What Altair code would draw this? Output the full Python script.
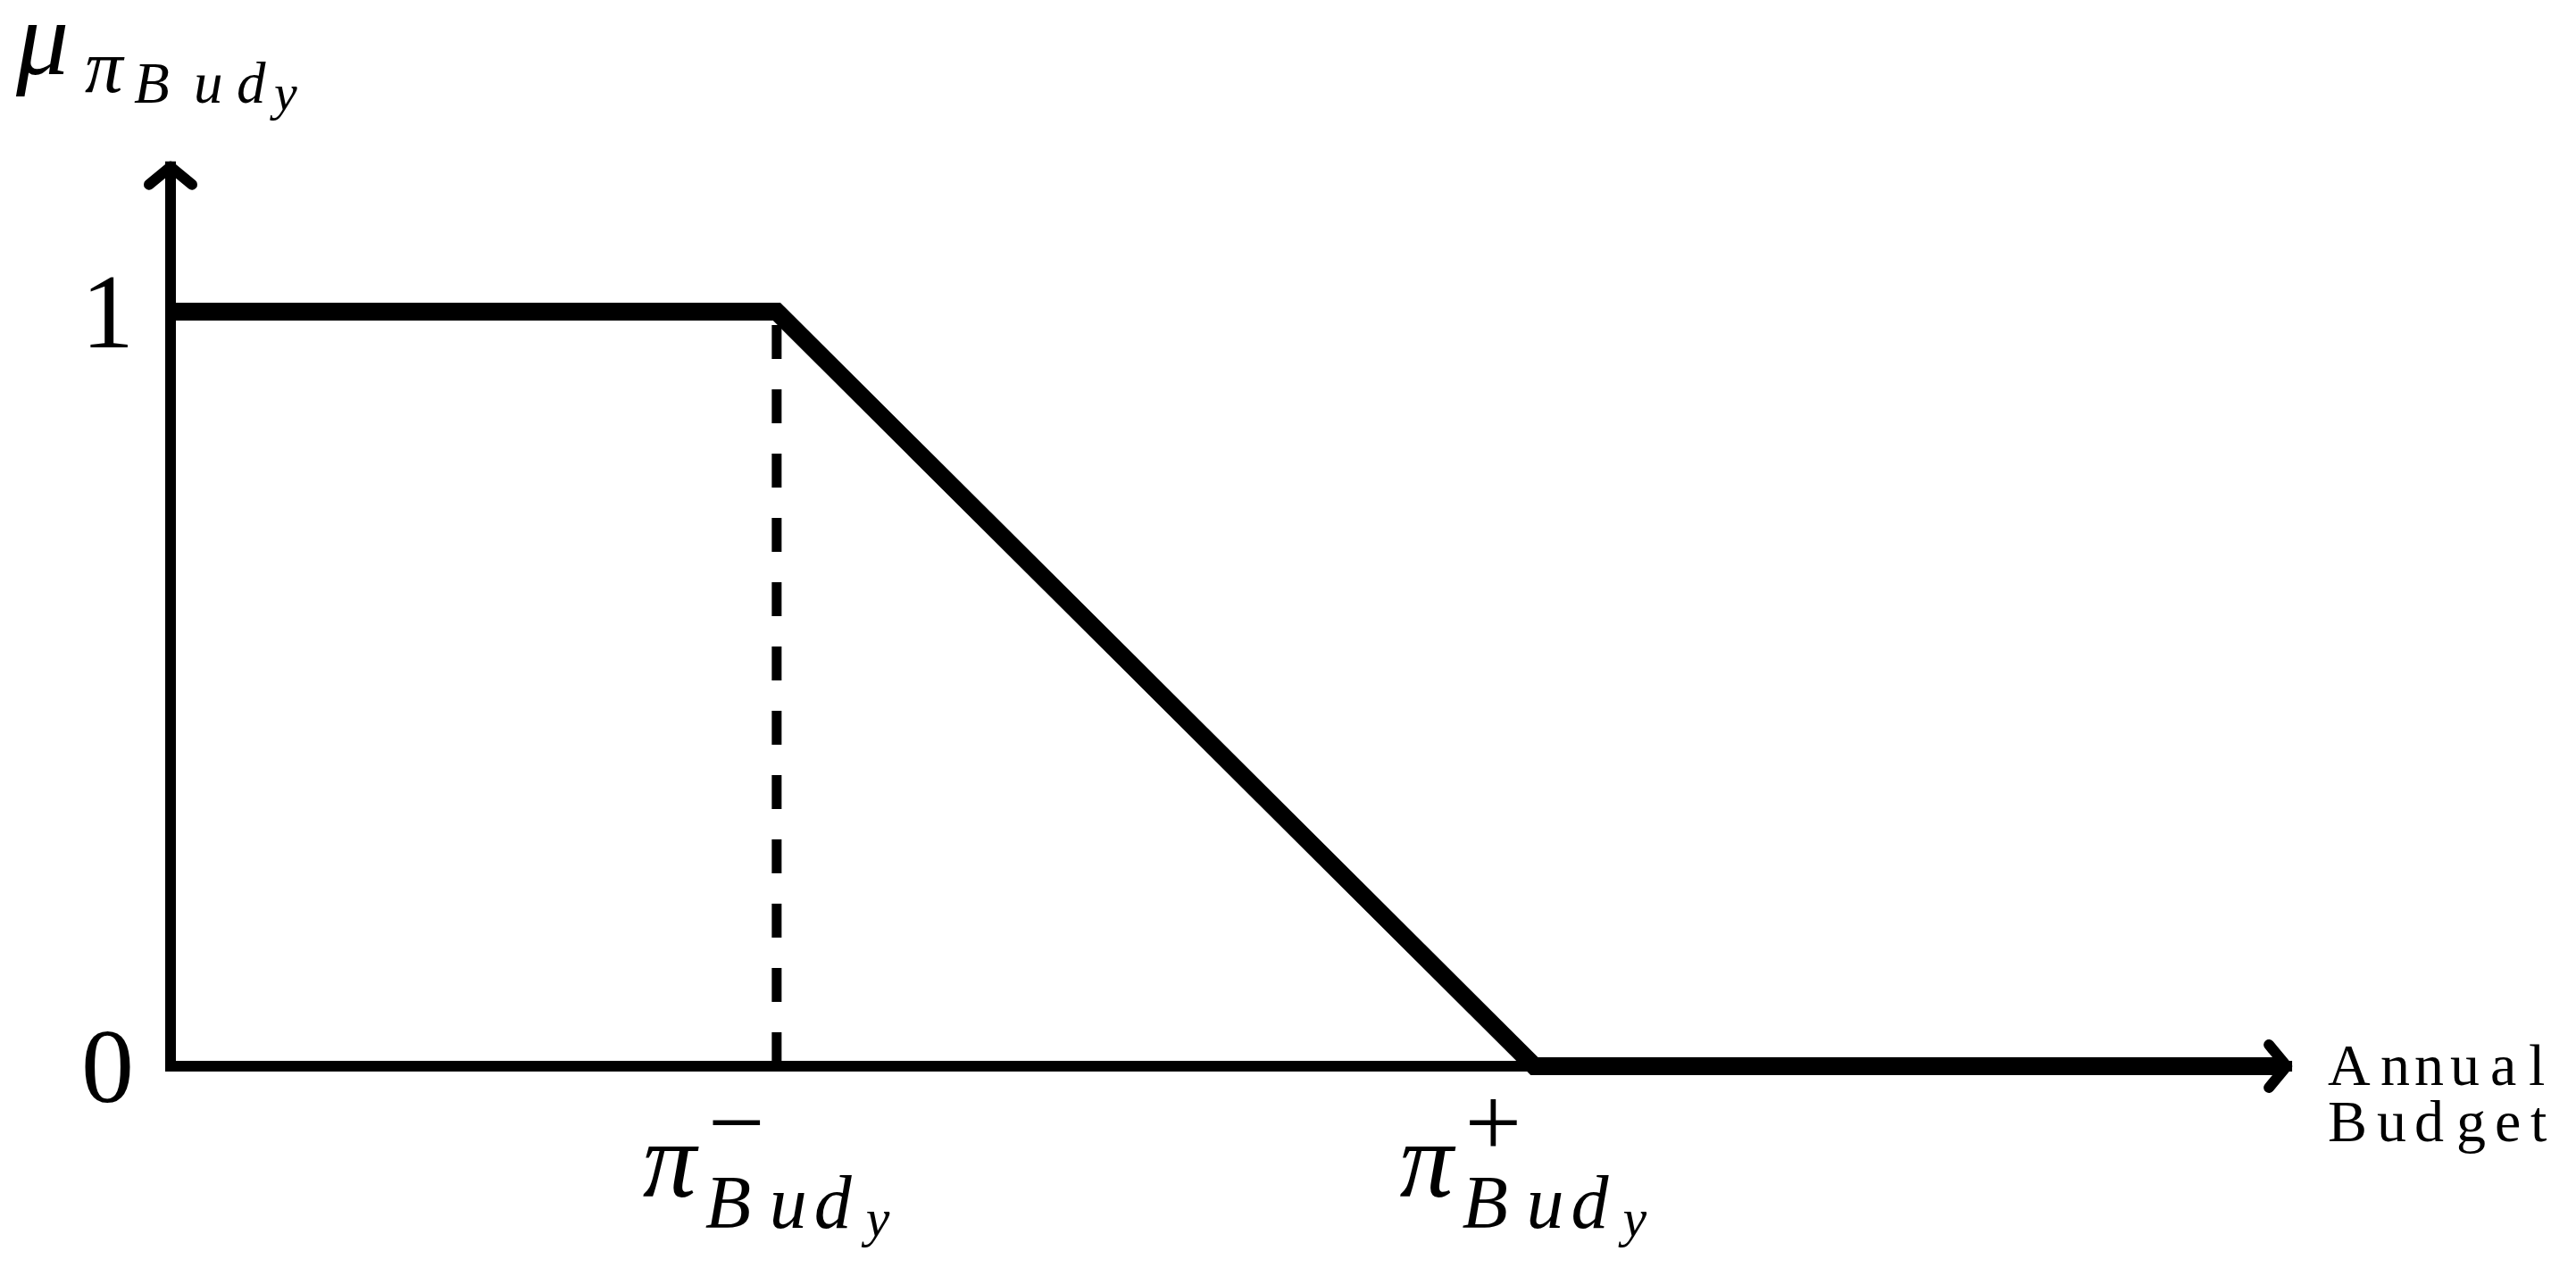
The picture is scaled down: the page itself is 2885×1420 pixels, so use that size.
import altair as alt
import pandas as pd

# ---------------- data ----------------
x_points = [0, 4, 9, 13.93]             # budget breakpoints (abstract units)
mu_points = [1, 1, 0, 0]                 # membership degree
x_domain = [0, 14]
y_domain = [0, 1.2]
axis_x_end = 13.965
axis_y_end = 1.192
pi_minus = 4
pi_plus = 9
y_tick_values = [0, 1]
y_tick_labels = ["0", "1"]
x_label_anchors = [pi_minus, pi_plus]
x_label_signs = ["\u2212", "+"]
sub_letters = ["B", "u", "d"]
subsub_letter = "y"
y_title_main = "\u03bc"
y_title_sub = "\u03c0"
x_title_lines = ["Annual", "Budget"]

# ---------------- layout / style ----------------
FONT = "Liberation Serif"
W, H = 2376, 1014
X = alt.X("x:Q", scale=alt.Scale(domain=x_domain, nice=False, zero=False), axis=None)
Y = alt.Y("y:Q", scale=alt.Scale(domain=y_domain, nice=False, zero=False), axis=None)


def txt(x, y, text, dx, dy, size, italic=False, align="left"):
    df = pd.DataFrame({"x": [x], "y": [y], "t": [text]})
    return alt.Chart(df).mark_text(
        dx=dx, dy=dy, fontSize=size, font=FONT,
        fontStyle="italic" if italic else "normal",
        align=align, baseline="alphabetic", color="black",
    ).encode(x=X, y=Y, text="t:N")


layers = []

# axes lines
yaxis = alt.Chart(pd.DataFrame({"x": [0], "y": [0], "y2": [axis_y_end]})).mark_rule(
    strokeWidth=12, color="black", strokeCap="square").encode(x=X, y=Y, y2="y2:Q")
xaxis = alt.Chart(pd.DataFrame({"x": [0], "x2": [axis_x_end], "y": [0]})).mark_rule(
    strokeWidth=12, color="black", strokeCap="square").encode(x=X, x2="x2:Q", y=Y)
layers += [yaxis, xaxis]

# arrow heads
up_arrow = alt.Chart(pd.DataFrame({"x": [0], "y": [axis_y_end]})).mark_point(
    shape="M-1,0.83L0,0L1,0.83", size=2304, filled=False, stroke="black",
    strokeWidth=12, strokeJoin="round", strokeCap="round", opacity=1).encode(x=X, y=Y)
right_arrow = alt.Chart(pd.DataFrame({"x": [axis_x_end], "y": [0]})).mark_point(
    shape="M-0.83,-1L0,0L-0.83,1", size=2304, filled=False, stroke="black",
    strokeWidth=12, strokeJoin="round", strokeCap="round", opacity=1).encode(x=X, y=Y)
layers += [up_arrow, right_arrow]

# dashed vertical at pi minus
dashed = alt.Chart(pd.DataFrame({"x": [pi_minus], "y": [0], "y2": [1]})).mark_rule(
    strokeWidth=11, color="black", strokeDash=[38, 34]).encode(x=X, y=Y, y2="y2:Q")
layers.append(dashed)

# membership function
mf = alt.Chart(pd.DataFrame({"x": x_points, "y": mu_points})).mark_line(
    strokeWidth=20, color="black", strokeJoin="miter", strokeCap="butt").encode(
    x=X, y=Y, order=alt.Order("x:Q"))
layers.append(mf)

# y tick labels
for v, lab in zip(y_tick_values, y_tick_labels):
    layers.append(txt(0, v, lab, -41, 40, 118, align="right"))

# y title  mu_{pi_{Bud_y}}  anchored at top of y axis
layers.append(txt(0, 1.2, y_title_main, -173, -97, 118, italic=True))
layers.append(txt(0, 1.2, y_title_sub, -96, -77, 85, italic=True))
for ch, dx in zip(sub_letters, [-41, 26, 74]):
    layers.append(txt(0, 1.2, ch, dx, -65, 65, italic=True))
layers.append(txt(0, 1.2, subsub_letter, 116, -57, 58, italic=True))

# x labels  pi^{-/+}_{Bud_y}
for anchor, sign, p in zip(x_label_anchors, x_label_signs, [-150, -151]):
    layers.append(txt(anchor, 0, "\u03c0", p, 146, 120, italic=True))
    layers.append(txt(anchor, 0, sign, p + 105, 101, 113, align="center"))
    for ch, off in zip(sub_letters, [70, 142, 192]):
        layers.append(txt(anchor, 0, ch, p + off, 181, 84, italic=True))
    layers.append(txt(anchor, 0, subsub_letter, p + 250, 190, 60, italic=True))

# x title "Annual Budget" at arrow tip
line_offsets = [[46, 105, 143, 183, 228, 271], [46, 101, 143, 190, 233, 273]]
line_dy = [21, 84]
for word, offs, dy in zip(x_title_lines, line_offsets, line_dy):
    for ch, dx in zip(word, offs):
        layers.append(txt(axis_x_end, 0, ch, dx, dy, 66))

chart = alt.layer(*layers).properties(
    width=W, height=H,
    autosize=alt.AutoSizeParams(type="none"),
    padding={"left": 183, "top": 172, "right": 310, "bottom": 214},
).configure_view(strokeWidth=0)

chart.save("out.html", embed_options={"renderer": "svg", "actions": False})
